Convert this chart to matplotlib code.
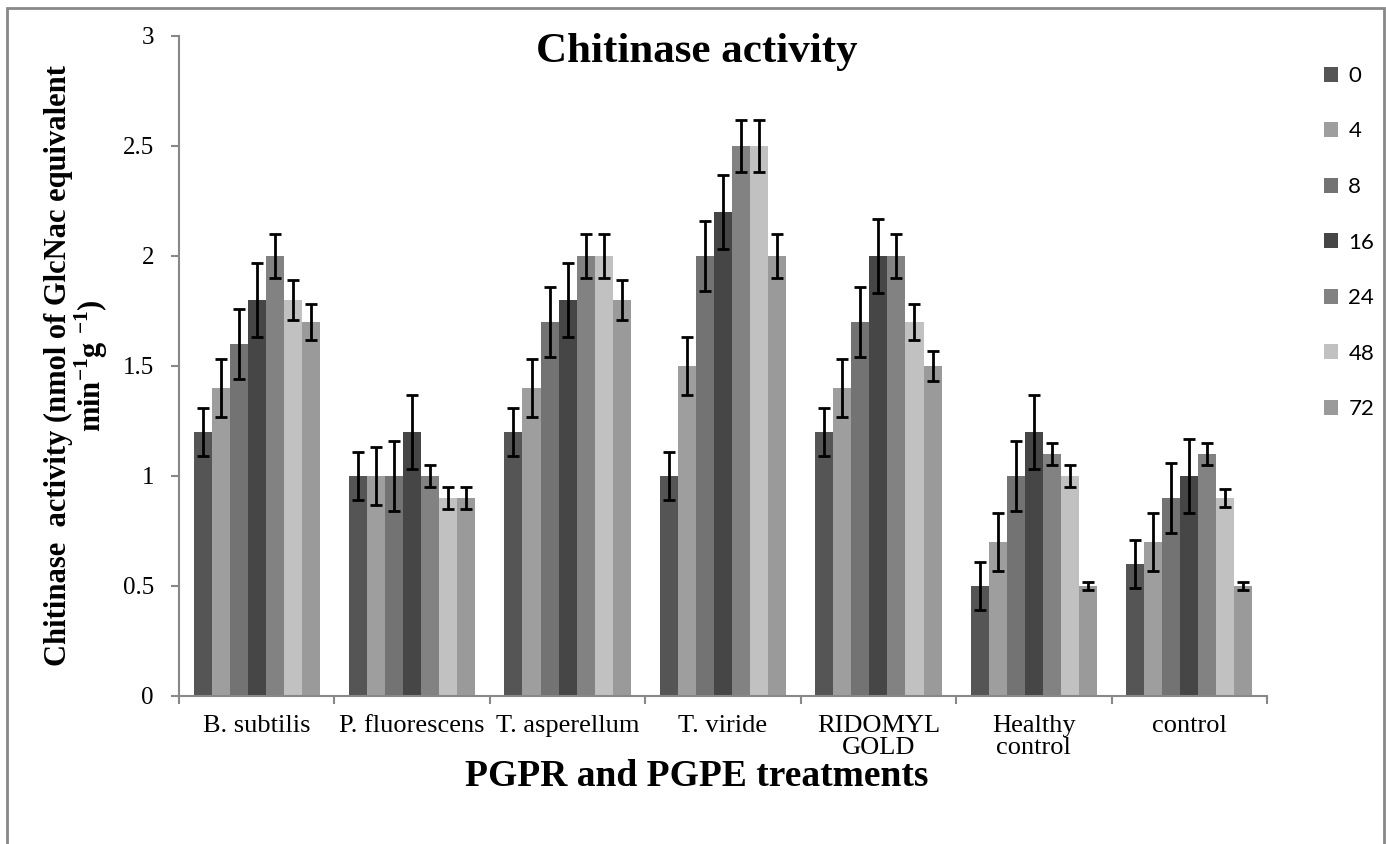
import matplotlib
matplotlib.use("Agg")
import matplotlib.pyplot as plt
import numpy as np
from matplotlib.patches import Rectangle

# --- DATA ---
treatments = ["B. subtilis", "P. fluorescens", "T. asperellum", "T. viride",
              "RIDOMYL\nGOLD", "Healthy\ncontrol", "control"]
hours = ["0", "4", "8", "16", "24", "48", "72"]

# one list per time point, values across treatments
h0 = [1.2, 1.0, 1.2, 1.0, 1.2, 0.5, 0.6]
h4 = [1.4, 1.0, 1.4, 1.5, 1.4, 0.7, 0.7]
h8 = [1.6, 1.0, 1.7, 2.0, 1.7, 1.0, 0.9]
h16 = [1.8, 1.2, 1.8, 2.2, 2.0, 1.2, 1.0]
h24 = [2.0, 1.0, 2.0, 2.5, 2.0, 1.1, 1.1]
h48 = [1.8, 0.9, 2.0, 2.5, 1.7, 1.0, 0.9]
h72 = [1.7, 0.9, 1.8, 2.0, 1.5, 0.5, 0.5]

e0 = [0.11, 0.11, 0.11, 0.11, 0.11, 0.11, 0.11]
e4 = [0.13, 0.13, 0.13, 0.13, 0.13, 0.13, 0.13]
e8 = [0.16, 0.16, 0.16, 0.16, 0.16, 0.16, 0.16]
e16 = [0.17, 0.17, 0.17, 0.17, 0.17, 0.17, 0.17]
e24 = [0.10, 0.05, 0.10, 0.12, 0.10, 0.05, 0.05]
e48 = [0.09, 0.05, 0.10, 0.12, 0.08, 0.05, 0.04]
e72 = [0.08, 0.05, 0.09, 0.10, 0.07, 0.02, 0.02]

colors = ["#555555", "#9e9e9e", "#737373", "#464646", "#828282", "#c1c1c1", "#9a9a9a"]

series = [h0, h4, h8, h16, h24, h48, h72]
errors = [e0, e4, e8, e16, e24, e48, e72]

W, H = 1386, 844
fig = plt.figure(figsize=(W / 100, H / 100), dpi=100)
ax = fig.add_axes([179 / W, 1 - 696 / H, (1267 - 179) / W, (696 - 36) / H])

serif = "Liberation Serif"
n = len(series)
bw = 0.116
x = np.arange(len(treatments))
for i, (vals, errs) in enumerate(zip(series, errors)):
    pos = x + (i - (n - 1) / 2) * bw
    ax.bar(pos, vals, width=bw, color=colors[i], label=hours[i], zorder=2)
    ax.errorbar(pos, vals, yerr=errs, fmt="none", ecolor="black",
                elinewidth=2, capsize=4.5, capthick=2, zorder=3)

ax.set_xlim(-0.5, len(treatments) - 0.5)
ax.set_ylim(0, 3)
ax.set_yticks([0, 0.5, 1, 1.5, 2, 2.5, 3])
ax.set_yticklabels(["0", "0.5", "1", "1.5", "2", "2.5", "3"],
                   fontfamily=serif, fontsize=18)
ax.set_xticks(x)
ax.set_xticklabels(treatments, fontfamily=serif, fontsize=19, linespacing=0.95)
ax.set_xticks(np.arange(-0.5, len(treatments)), minor=True)
ax.tick_params(axis="x", which="major", length=0, pad=14)
ax.tick_params(axis="x", which="minor", length=6, width=1.5, color="#888888")
ax.tick_params(axis="y", length=6, width=1.5, color="#888888", pad=12)

for side in ["top", "right"]:
    ax.spines[side].set_visible(False)
for side in ["left", "bottom"]:
    ax.spines[side].set_color("#888888")
    ax.spines[side].set_linewidth(1.5)

fig.text(0.503, 1 - 52 / H, "Chitinase activity", ha="center", va="center",
         fontfamily=serif, fontweight="bold", fontsize=31)
fig.text(0.503, 1 - 776 / H, "PGPR and PGPE treatments", ha="center", va="center",
         fontfamily=serif, fontweight="bold", fontsize=27)
fig.text(77 / W, 1 - 366 / H,
         "Chitinase  activity (nmol of GlcNac equivalent\nmin$^{\\mathregular{-1}}$g $^{\\mathregular{-1}}$)",
         rotation=90, ha="center", va="center", multialignment="center",
         fontfamily=serif, fontweight="bold", fontsize=22, linespacing=0.95)

leg = fig.legend(loc="upper left", bbox_to_anchor=(1315 / W, 1 - 57 / H),
                 frameon=False, prop={"family": "Lato", "size": 16},
                 handlelength=0.65, handleheight=0.65, handletextpad=0.45,
                 labelspacing=1.6, borderaxespad=0)

# outer chart border
fig.patches.append(Rectangle((7 / W, -0.05), (1384 - 7) / W, 1.05 - 8 / H,
                             transform=fig.transFigure, fill=False,
                             edgecolor="#888888", linewidth=2))

fig.savefig("out.png", dpi=100)
